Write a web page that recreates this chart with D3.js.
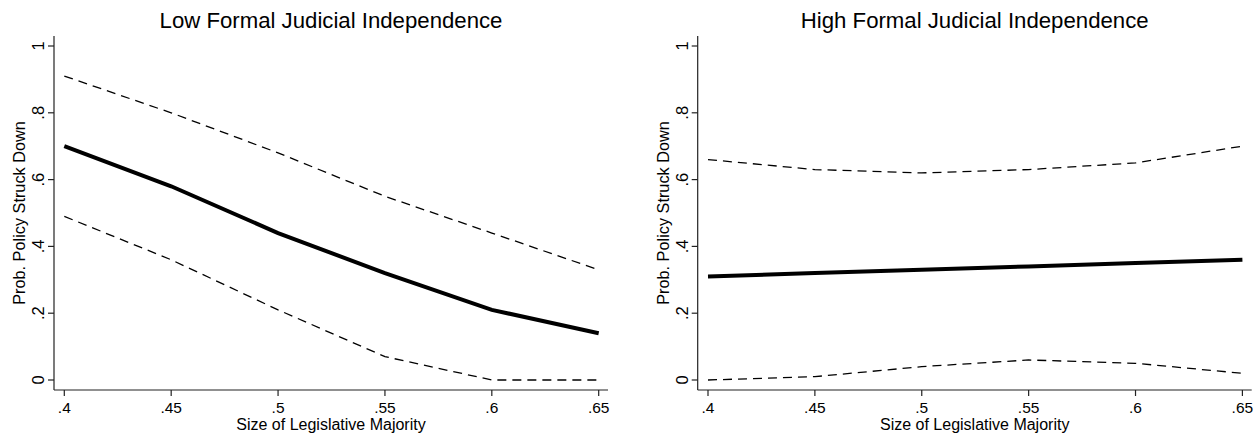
<!DOCTYPE html>
<html>
<head>
<meta charset="utf-8">
<script src="https://cdn.jsdelivr.net/npm/d3@7"></script>
<style>
  body { margin: 0; background: #fff; }
  text { font-family: "Liberation Sans", Arial, Helvetica, sans-serif; fill: #000; }
</style>
</head>
<body>
<div id="chart"></div>
<script>
// Values
const majority = [0.40, 0.45, 0.50, 0.55, 0.60, 0.65];
const xTicks = [0.40, 0.45, 0.50, 0.55, 0.60, 0.65];
const xTickLabels = ['.4', '.45', '.5', '.55', '.6', '.65'];
const yTicks = [0, 0.2, 0.4, 0.6, 0.8, 1];
const yTickLabels = ['0', '.2', '.4', '.6', '.8', '1'];

const lowMean = [0.70, 0.58, 0.44, 0.32, 0.21, 0.14];
const lowUpper = [0.91, 0.80, 0.68, 0.55, 0.44, 0.33];
const lowLower = [0.49, 0.36, 0.21, 0.07, 0.00, 0.00];

const highMean = [0.31, 0.32, 0.33, 0.34, 0.35, 0.36];
const highUpper = [0.66, 0.63, 0.62, 0.63, 0.65, 0.70];
const highLower = [0.00, 0.01, 0.04, 0.06, 0.05, 0.02];

const panelTitles = ['Low Formal Judicial Independence', 'High Formal Judicial Independence'];
const xTitle = 'Size of Legislative Majority';
const yTitle = 'Prob. Policy Struck Down';

const width = 1255;
const height = 434;

const svg = d3.select('#chart').append('svg')
  .attr('width', width)
  .attr('height', height);

function drawPanel(left, title, mean, upper, lower) {
  // plot region edges (axis lines)
  const x0 = left, x1 = left + 554;
  const yTop = 36, yBottom = 390;

  const x = d3.scaleLinear().domain([0.4, 0.65]).range([x0 + 10.3, x1 - 9.3]);
  const y = d3.scaleLinear().domain([0, 1]).range([380, 46]);

  const g = svg.append('g');

  // title
  g.append('text')
    .attr('x', (x0 + x1) / 2)
    .attr('y', 28)
    .attr('text-anchor', 'middle')
    .style('font-size', '22.2px')
    .text(title);

  // y axis
  g.append('line')
    .attr('x1', x0).attr('x2', x0)
    .attr('y1', yTop).attr('y2', yBottom)
    .attr('stroke', '#222').attr('stroke-width', 1.2);
  yTicks.forEach((t, i) => {
    g.append('line')
      .attr('x1', x0 - 6).attr('x2', x0)
      .attr('y1', y(t)).attr('y2', y(t))
      .attr('stroke', '#222').attr('stroke-width', 1.2);
    g.append('text')
      .attr('transform', `translate(${x0 - 10},${y(t)}) rotate(-90)`)
      .attr('text-anchor', 'middle')
      .style('font-size', '16.5px')
      .text(yTickLabels[i]);
  });
  g.append('text')
    .attr('transform', `translate(${x0 - 29},${(y(0) + y(1)) / 2}) rotate(-90)`)
    .attr('text-anchor', 'middle')
    .style('font-size', '16.3px')
    .text(yTitle);

  // x axis
  g.append('line')
    .attr('x1', x0).attr('x2', x1)
    .attr('y1', yBottom).attr('y2', yBottom)
    .attr('stroke', '#222').attr('stroke-width', 1.2);
  xTicks.forEach((t, i) => {
    g.append('line')
      .attr('x1', x(t)).attr('x2', x(t))
      .attr('y1', yBottom).attr('y2', yBottom + 6)
      .attr('stroke', '#222').attr('stroke-width', 1.2);
    g.append('text')
      .attr('x', x(t))
      .attr('y', yBottom + 23)
      .attr('text-anchor', 'middle')
      .style('font-size', '15.5px')
      .text(xTickLabels[i]);
  });
  g.append('text')
    .attr('x', (x0 + x1) / 2)
    .attr('y', 430)
    .attr('text-anchor', 'middle')
    .style('font-size', '16px')
    .text(xTitle);

  const line = d3.line()
    .x((d, i) => x(majority[i]))
    .y((d) => y(d));

  [upper, lower].forEach((s) => {
    g.append('path')
      .datum(s)
      .attr('d', line)
      .attr('fill', 'none')
      .attr('stroke', '#000')
      .attr('stroke-width', 1.3)
      .attr('stroke-dasharray', '9,6');
  });

  g.append('path')
    .datum(mean)
    .attr('d', line)
    .attr('fill', 'none')
    .attr('stroke', '#000')
    .attr('stroke-width', 4);
}

drawPanel(54, panelTitles[0], lowMean, lowUpper, lowLower);
drawPanel(697.7, panelTitles[1], highMean, highUpper, highLower);
</script>
</body>
</html>
